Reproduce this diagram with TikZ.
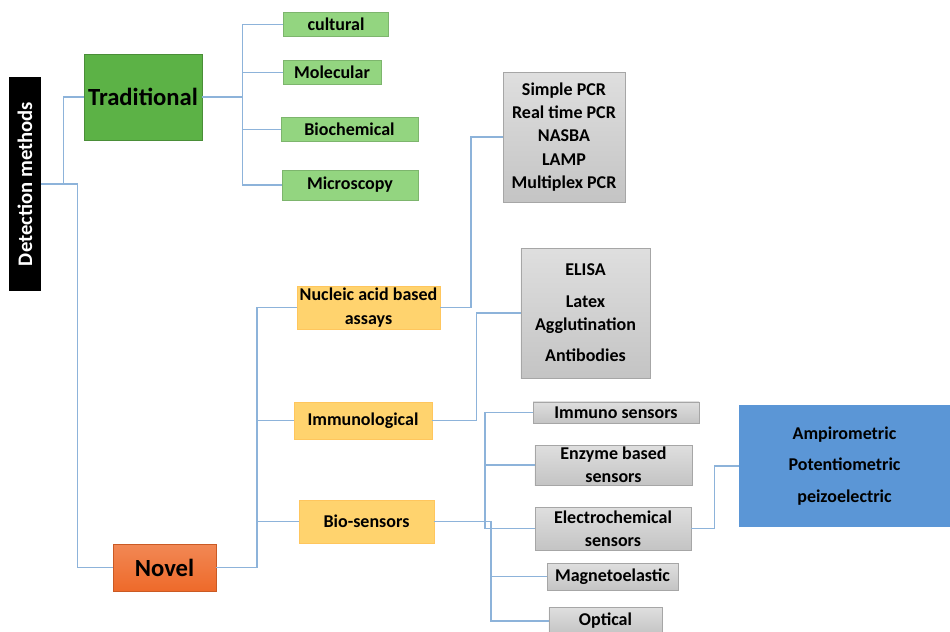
\documentclass[tikz,border=0pt]{standalone}
\usepackage{fontspec}
\setmainfont{Carlito}
\definecolor{linkblue}{HTML}{8DB3DA}
\definecolor{tradgreen}{HTML}{5CB246}
\definecolor{leafgreen}{HTML}{93D580}
\definecolor{novelorange}{HTML}{EE6A2A}
\definecolor{catyellow}{HTML}{FFD36E}
\definecolor{boxgray}{HTML}{C4C4C4}
\definecolor{sensblue}{HTML}{5B96D6}
\begin{document}
\begin{tikzpicture}[
    x=0.75pt, y=-0.75pt, font=\bfseries,
    link/.style={draw=linkblue, line width=1pt},
    base/.style={inner sep=0pt, align=center, text=black},
    rootbox/.style={base, fill=black, text=white, minimum width=24pt, minimum height=160pt},
    trad/.style={base, fill=tradgreen, draw=tradgreen!80!black, font=\bfseries\fontsize{18.5}{22}\selectfont},
    leaf/.style={base, fill=leafgreen, draw=leafgreen!85!black, minimum height=18pt, font=\bfseries\fontsize{13.5}{16}\selectfont},
    novelbox/.style={base, top color=novelorange!80!white, bottom color=novelorange, draw=novelorange!85!black, font=\bfseries\fontsize{18.5}{22}\selectfont},
    cat/.style={base, fill=catyellow, draw=catyellow!85!orange, font=\bfseries\fontsize{13.5}{17.5}\selectfont},
    graybox/.style={base, top color=boxgray!55!white, bottom color=boxgray, draw=gray!70, font=\bfseries\fontsize{13.5}{17.5}\selectfont},
    bluebox/.style={base, fill=sensblue, font=\bfseries\fontsize{13.5}{17.5}\selectfont}
  ]
  \useasboundingbox (0,0) rectangle (950,632);

  \node[rootbox] (root) at (25,184) {\rotatebox{90}{\fontsize{15.5}{18}\selectfont Detection methods}};

  % traditional branch
  \node[trad, minimum width=88.5pt, minimum height=64.5pt] (trad) at (143,97) {Traditional};
  \node[leaf, minimum width=79pt] (cultural) at (336,24.5) {cultural};
  \node[leaf, minimum width=73.5pt] (molecular) at (332,72.5) {Molecular};
  \node[leaf, minimum width=103pt] (biochem) at (349.5,129.5) {Biochemical};
  \node[leaf, minimum width=102pt, minimum height=22.5pt] (micro) at (350,185) {Microscopy};

  % novel branch
  \node[novelbox, minimum width=77pt, minimum height=35pt] (novel) at (164.5,567.5) {Novel};
  \node[cat, minimum width=107pt, minimum height=32pt] (nucleic) at (368.5,307.5) {Nucleic acid based\\assays};
  \node[cat, minimum width=103.5pt, minimum height=28pt] (immuno) at (363,420.5) {Immunological};
  \node[cat, minimum width=101pt, minimum height=32pt] (bio) at (366.5,521.5) {Bio-sensors};

  \node[graybox, minimum width=91.5pt, minimum height=97.5pt] (pcr) at (564,137)
    {Simple PCR\\Real time PCR\\NASBA\\LAMP\\Multiplex PCR};
  \node[graybox, minimum width=97pt, minimum height=97.5pt] (elisa) at (585.5,313)
    {ELISA\\[6pt]Latex\\Agglutination\\[6pt]Antibodies};

  \node[graybox, minimum width=124.5pt, minimum height=16pt] (immsens) at (616,412.5) {Immuno sensors};
  \node[graybox, minimum width=118pt, minimum height=30pt] (enzyme) at (613.5,465) {Enzyme based\\sensors};
  \node[graybox, minimum width=117pt, minimum height=32pt] (electro) at (613,528.5) {Electrochemical\\sensors};
  \node[graybox, minimum width=98pt, minimum height=20pt] (magneto) at (612.5,576.5) {Magnetoelastic};
  \node[graybox, minimum width=85pt, minimum height=20pt] (optical) at (605.5,621) {Optical};
  \node[bluebox, minimum width=158pt, minimum height=91.5pt] (types) at (844.5,466)
    {Ampirometric\\[6pt]Potentiometric\\[6pt]peizoelectric};

  % connectors
  \draw[link] (root.east) -- ++(22,0) |- (trad.west);
  \draw[link] (root.east) -- ++(36,0) |- (novel.west);
  \foreach \n in {cultural, molecular, biochem, micro}
    \draw[link] (trad.east) -- ++(40,0) |- (\n.west);
  \foreach \n in {nucleic, immuno, bio}
    \draw[link] (novel.east) -- ++(41,0) |- (\n.west);
  \draw[link] (nucleic.east) -- ++(31,0) |- (pcr.west);
  \draw[link] (immuno.east) -- ++(44,0) |- (elisa.west);
  \foreach \n in {immsens, enzyme, electro}
    \draw[link] (bio.east) -- ++(51,0) |- (\n.west);
  \foreach \n in {magneto, optical}
    \draw[link] (bio.east) -- ++(57,0) |- (\n.west);
  \draw[link] (electro.east) -- ++(23,0) |- (types.west);
\end{tikzpicture}
\end{document}
